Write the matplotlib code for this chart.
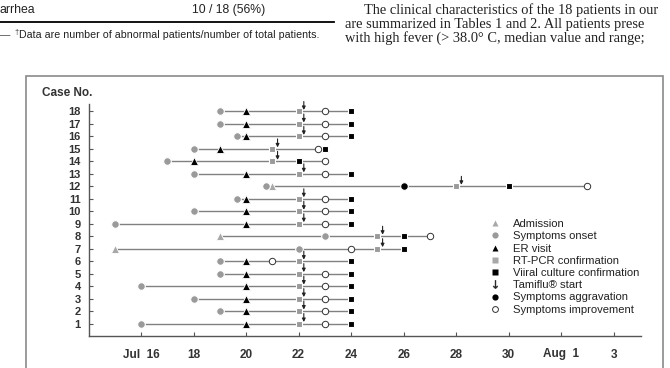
import matplotlib
matplotlib.use("Agg")
import matplotlib.pyplot as plt
from matplotlib.lines import Line2D
from matplotlib.patches import Rectangle

# event day per case (day number in July; 32 = Aug 1), None = no event
cases = list(range(1, 19))
onset = [16, 19, 18, 16, 19, 19, 22, 23, 15, 18, 19.65, 20.75, 18, 17, 18, 19.65, 19, 19]
admission = [None, None, None, None, None, None, 15, 19, None, None, None, 21, None, None, None, None, None, None]
er_visit = [20, 20, 20, 20, 20, 20, None, None, 20, 20, 20, None, 20, 18, 19, 20, 20, 20]
rt_pcr = [22, 22, 22, 22, 22, 22, 25, 25, 22, 22, 22, 28, 22, 21, 21, 22, 22, 22]
culture = [24, 24, 24, 24, 24, 24, 26, 26, 24, 24, 24, 30, 24, 22, 23, 24, 24, 24]
tamiflu = [22.2, 22.2, 22.2, 22.2, 22.2, 22.2, 25.2, 25.2, 22.2, 22.2, 22.2, 28.2, 22.2, 21.2, 21.2, 22.2, 22.2, 22.2]
aggravation = [None, None, None, None, None, None, None, None, None, None, None, 26, None, None, None, None, None, None]
improvement = [23, 23, 23, 23, 23, 21, 24, 27, 23, 23, 23, 33, 23, 23, 22.75, 23, 23, 23]

xtick_days = [16, 18, 20, 22, 24, 26, 28, 30, 32, 34]
xtick_labels = ["Jul  16", "18", "20", "22", "24", "26", "28", "30", "Aug  1", "3"]

W, H = 670, 368
def fx(x):
    return x / W
def fy(y):
    return 1 - y / H

plt.rcParams["font.family"] = ["Liberation Sans", "DejaVu Sans"]

fig = plt.figure(figsize=(W / 100, H / 100), dpi=100)

# --- bits of the page around the figure ---
fig.text(fx(0), fy(10), "arrhea", fontsize=8.8, va="center", ha="left", color="#222")
fig.text(fx(192), fy(10), "10 / 18 (56%)", fontsize=8.8, va="center", ha="left", color="#222")
fig.add_artist(Line2D([0, fx(334)], [fy(22), fy(22)], color="black", lw=1.3))
fig.text(fx(0), fy(35), "—", fontsize=7.5, va="center", ha="left", color="#444")
fig.text(fx(14), fy(32.5), "†", fontsize=5.5, va="center", ha="left", color="#333")
fig.text(fx(19), fy(35), "Data are number of abnormal patients/number of total patients.",
         fontsize=7.7, va="center", ha="left", color="#222")
serif = dict(family="Liberation Serif", fontsize=10.4, va="center", ha="left", color="#222")
fig.text(fx(364), fy(10), "The clinical characteristics of the 18 patients in our", **serif)
fig.text(fx(345), fy(24.5), "are summarized in Tables 1 and 2. All patients prese", **serif)
fig.text(fx(345), fy(38.5), "with high fever (> 38.0° C, median value and range;", **serif)

fig.add_artist(Rectangle((fx(26), -0.05), fx(663) - fx(26), fy(76) + 0.05,
                         transform=fig.transFigure, fill=False,
                         edgecolor="#8a8a8a", lw=1.2))

# --- the chart ---
ax = fig.add_axes([fx(89), 1 - 336 / H, fx(641) - fx(89), (336 - 104) / H])

gray = "#9a9a9a"
line_gray = "#808080"
for i, c in enumerate(cases):
    days = [d for d in (onset[i], admission[i], er_visit[i], rt_pcr[i], culture[i],
                        aggravation[i], improvement[i]) if d is not None]
    ax.plot([min(days), max(days)], [c, c], color=line_gray, lw=1.0, zorder=1)

def draw(vals, **kw):
    xs = [v for v in vals if v is not None]
    ys = [c for v, c in zip(vals, cases) if v is not None]
    ax.plot(xs, ys, linestyle="none", zorder=3, **kw)

draw(admission, marker="^", ms=6, mfc="#a8a8a8", mec="white", mew=0.6)
draw(onset, marker="o", ms=5.5, mfc=gray, mec="white", mew=0.8)
draw(er_visit, marker="^", ms=5.8, mfc="black", mec="white", mew=0.6)
draw(rt_pcr, marker="s", ms=4.5, mfc=gray, mec="white", mew=0.8)
draw(culture, marker="s", ms=4.5, mfc="black", mec="white", mew=0.8)
draw(aggravation, marker="o", ms=5.5, mfc="black", mec="white", mew=0.8)
draw(improvement, marker="o", ms=4.6, mfc="white", mec="#333333", mew=0.7)

for t, c in zip(tamiflu, cases):
    ax.annotate("", xy=(t, c + 0.12), xytext=(t, c + 0.8),
                arrowprops=dict(arrowstyle="-|>", color="#222", lw=0.8,
                                mutation_scale=5, shrinkA=0, shrinkB=0), zorder=4)

ax.set_xlim(14.02, 35.04)
ax.set_ylim(0, 18.6)
ax.set_xticks(xtick_days)
ax.set_xticklabels(xtick_labels, fontsize=8.5, fontweight="bold", color="#333")
ax.set_yticks(cases)
ax.set_yticklabels([str(c) for c in cases], fontsize=8, fontweight="bold", color="#333")
ax.tick_params(axis="x", direction="in", length=3, width=0.8, color="#555", pad=9)
ax.tick_params(axis="y", direction="in", length=3, width=0.8, color="#555", pad=6)
for s in ("top", "right"):
    ax.spines[s].set_visible(False)
for s in ("left", "bottom"):
    ax.spines[s].set_color("#555")
    ax.spines[s].set_linewidth(1.0)

fig.text(fx(42), fy(93), "Case No.", fontsize=8.5, fontweight="bold", va="center",
         ha="left", color="#333")

handles = [
    Line2D([], [], ls="none", marker="^", ms=4.5, mfc="#a8a8a8", mec="none"),
    Line2D([], [], ls="none", marker="o", ms=4.5, mfc=gray, mec="none"),
    Line2D([], [], ls="none", marker="^", ms=4.5, mfc="black", mec="none"),
    Line2D([], [], ls="none", marker="s", ms=4, mfc="#a8a8a8", mec="none"),
    Line2D([], [], ls="none", marker="s", ms=4, mfc="black", mec="none"),
    Line2D([], [], ls="none", marker=r"$\downarrow$", ms=6, mfc="#222", mec="#222", mew=0.3),
    Line2D([], [], ls="none", marker="o", ms=4.5, mfc="black", mec="none"),
    Line2D([], [], ls="none", marker="o", ms=4.2, mfc="white", mec="#333", mew=0.7),
]
labels = ["Admission", "Symptoms onset", "ER visit", "RT-PCR confirmation",
          "Viiral culture confirmation", "Tamiflu® start", "Symptoms aggravation",
          "Symptoms improvement"]
fig.legend(handles, labels, loc="upper left", bbox_to_anchor=(fx(489), fy(219)),
           frameon=False, fontsize=8.1, handlelength=1.05, handletextpad=1.05,
           labelspacing=0.2, borderpad=0, borderaxespad=0, labelcolor="#222")

fig.savefig("out.png", dpi=100)
